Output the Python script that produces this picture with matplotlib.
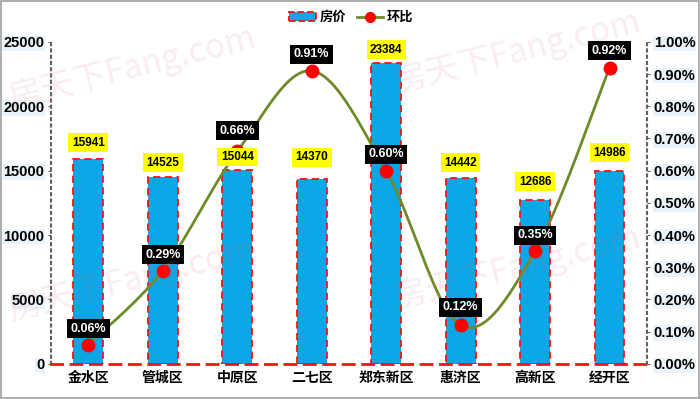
import numpy as np
import matplotlib
matplotlib.use("Agg")
import matplotlib.pyplot as plt
from matplotlib.patches import Patch, Rectangle
from matplotlib.lines import Line2D
from matplotlib.ticker import FuncFormatter

plt.rcParams['font.family'] = ['Liberation Sans', 'Noto Sans CJK SC', 'DejaVu Sans']

districts = ['金水区', '管城区', '中原区', '二七区', '郑东新区', '惠济区', '高新区', '经开区']
prices = [15941, 14525, 15044, 14370, 23384, 14442, 12686, 14986]
mom = [0.06, 0.29, 0.66, 0.91, 0.60, 0.12, 0.35, 0.92]  # percent
price_ticks = [0, 5000, 10000, 15000, 20000, 25000]
pct_ticks = [0.0, 0.1, 0.2, 0.3, 0.4, 0.5, 0.6, 0.7, 0.8, 0.9, 1.0]
# label offsets (points), styling only
bar_lab_off = [11.5, 10, 9.5, 15.5, 9.5, 11, 13.5, 13]
line_lab_off = [11.5, 11.5, 15, 12, 12, 13, 11.5, 12]

BLUE = '#0BA6E6'
RED = '#FF1010'
GREEN = '#6E8B2A'

fig = plt.figure(figsize=(7.0, 3.99), dpi=100)
fig.patch.set_facecolor('white')
fig.add_artist(Rectangle((0.002, 0.003), 0.996, 0.994, transform=fig.transFigure,
                         fill=False, edgecolor='#A0A0A0', linewidth=1.2))

# faint watermarks
for (wx, wy) in [(0.19, 0.83), (0.19, 0.30), (0.74, 0.87), (0.74, 0.33)]:
    fig.text(wx, wy, '房天下Fang.com', fontsize=24, color='#E07080', alpha=0.13,
             rotation=14, ha='center', va='center',
             family=['Noto Sans CJK SC', 'DejaVu Sans'], zorder=0)

ax = fig.add_axes([0.073, 0.088, 0.851, 0.807])
ax.set_facecolor('none')
x = np.arange(len(districts))
ax.bar(x, prices, width=0.4, color=BLUE, edgecolor=RED, linewidth=1.3,
       linestyle=(0, (4, 2.5)), zorder=2)
ax.set_xlim(-0.5, len(districts) - 0.5)
ax.set_ylim(0, 25000)
ax.set_yticks(price_ticks)
ax.set_xticks(x)
ax.set_xticklabels(districts, family=['Noto Sans CJK SC', 'DejaVu Sans'],
                   fontsize=10, fontweight='bold')

for s in ['top', 'right']:
    ax.spines[s].set_visible(False)
ax.spines['left'].set_linestyle((0, (1, 2)))
ax.spines['left'].set_color('#606060')
ax.spines['left'].set_linewidth(1.5)
ax.spines['bottom'].set_linestyle((0, (4, 3)))
ax.spines['bottom'].set_color(RED)
ax.spines['bottom'].set_linewidth(2)
ax.tick_params(axis='y', length=2, color='#606060', labelsize=10.5, pad=3)
ax.tick_params(axis='x', length=0, pad=5)
for lab in ax.get_yticklabels():
    lab.set_fontweight('bold')
    lab.set_bbox(dict(facecolor='#EAF4F8', edgecolor='none', pad=0.5))

ax2 = ax.twinx()
ax2.set_ylim(0, 1.0)
ax2.set_yticks(pct_ticks)
ax2.yaxis.set_major_formatter(FuncFormatter(lambda v, p: f'{v:.2f}%'))
for s in ['top', 'left', 'bottom']:
    ax2.spines[s].set_visible(False)
ax2.spines['right'].set_linestyle((0, (1, 2)))
ax2.spines['right'].set_color('#606060')
ax2.spines['right'].set_linewidth(1.5)
ax2.tick_params(axis='y', length=2, color='#606060', labelsize=10.5, pad=3)
for lab in ax2.get_yticklabels():
    lab.set_fontweight('bold')
    lab.set_bbox(dict(facecolor='#EAF4F8', edgecolor='none', pad=0.5))

# smooth (Catmull-Rom) curve through the points
xs = x.astype(float)
ys = np.array(mom, dtype=float)
cx, cy = [], []
n = len(xs)
t = np.linspace(0, 1, 30)
h00 = 2 * t**3 - 3 * t**2 + 1
h10 = t**3 - 2 * t**2 + t
h01 = -2 * t**3 + 3 * t**2
h11 = t**3 - t**2
for i in range(n - 1):
    for arr, src in ((cx, xs), (cy, ys)):
        a0 = src[i - 1] if i > 0 else src[i]
        a3 = src[i + 2] if i + 2 < n else src[i + 1]
        a1, a2 = src[i], src[i + 1]
        m1 = (a2 - a0) / 2
        m2 = (a3 - a1) / 2
        arr.extend(h00 * a1 + h10 * m1 + h01 * a2 + h11 * m2)
ax2.plot(cx, cy, color=GREEN, linewidth=2, zorder=3)
ax2.plot(xs, ys, linestyle='none', marker='o', markersize=9, color='#FF0000', zorder=4)

# bar value labels drawn on top axes so they sit above the markers
for xi, v, off in zip(x, prices, bar_lab_off):
    ax2.annotate(f'{v}', (xi, v), xycoords=ax.transData, xytext=(0, off),
                 textcoords='offset points', ha='center', va='center', fontsize=8.5,
                 fontweight='bold',
                 bbox=dict(facecolor='#FFFF00', edgecolor='none', pad=2.5), zorder=6)

for xi, v, off in zip(xs, ys, line_lab_off):
    ax2.annotate(f'{v:.2f}%', (xi, v), xytext=(0, off), textcoords='offset points',
                 ha='center', va='center', fontsize=9, fontweight='bold', color='white',
                 bbox=dict(facecolor='black', edgecolor='none', pad=2.5), zorder=7)

handles = [Patch(facecolor=BLUE, edgecolor=RED, linestyle='--', linewidth=1.3),
           Line2D([0], [0], color=GREEN, linewidth=2, marker='o', markersize=7,
                  markerfacecolor='#FF0000', markeredgecolor='#FF0000')]
fig.legend(handles, ['房价', '环比'], loc='center', bbox_to_anchor=(0.502, 0.957), ncol=2,
           frameon=False, prop={'family': ['Noto Sans CJK SC', 'DejaVu Sans'],
                                'weight': 'bold', 'size': 9.5},
           handlelength=2.0, handletextpad=0.3, columnspacing=0.8)

fig.savefig('out.png', dpi=100)
